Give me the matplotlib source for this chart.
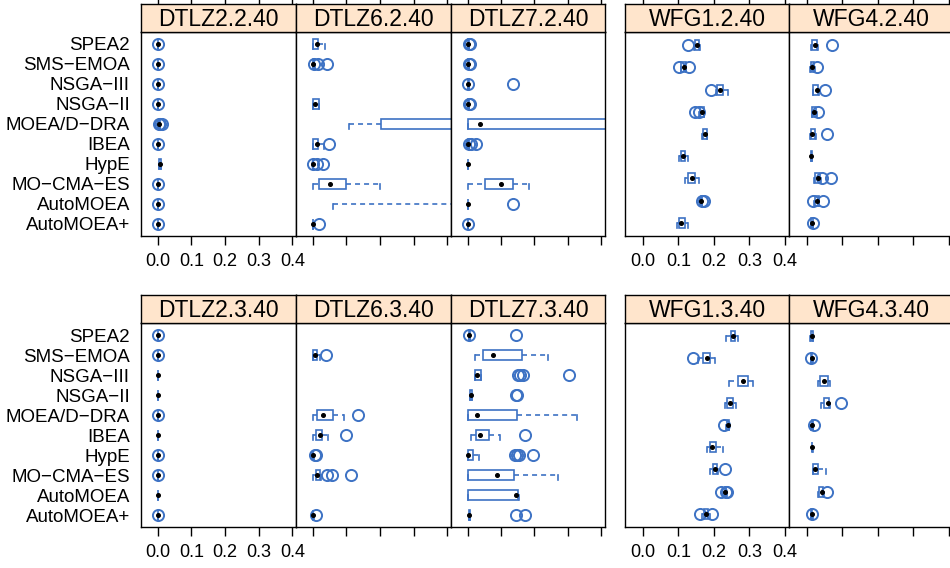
import numpy as np
import matplotlib
matplotlib.use('Agg')
import matplotlib.pyplot as plt
from matplotlib.patches import Rectangle

plt.rcParams['font.family'] = ['Liberation Sans', 'DejaVu Sans']
plt.rcParams['lines.scale_dashes'] = False

# algorithms (left group); right group has 9 unlabeled rows
algos = ['SPEA2', 'SMS\u2212EMOA', 'NSGA\u2212III', 'NSGA\u2212II', 'MOEA/D\u2212DRA',
         'IBEA', 'HypE', 'MO\u2212CMA\u2212ES', 'AutoMOEA', 'AutoMOEA+']
ticks = [0.0, 0.1, 0.2, 0.3, 0.4]
tick_labels = ['0.0', '0.1', '0.2', '0.3', '0.4']

# box stats: (whisker low, q1, median, q3, whisker high); None = nothing drawn
dtlz2_2_box = [(0.0, 0.0, 0.0, 0.001, 0.001)] * 4 + [(0.003, 0.004, 0.005, 0.006, 0.007),
               (0.0, 0.0, 0.0, 0.001, 0.001), (0.004, 0.005, 0.007, 0.010, 0.011),
               (0.0, 0.001, 0.001, 0.002, 0.002), (0.0, 0.001, 0.001, 0.002, 0.002),
               (0.0, 0.0, 0.0, 0.001, 0.001)]
dtlz2_2_out = [[0.0], [0.0], [0.0], [0.0], [0.004, 0.008, 0.012], [0.0], [], [0.001], [0.001], [0.0]]

dtlz6_2_box = [(0.0, 0.0, 0.012, 0.017, 0.037), (0.0, 0.0, 0.001, 0.004, 0.006), None,
               (0.0, 0.0, 0.006, 0.020, 0.020), (0.109, 0.203, 0.6, 0.9, 1.0),
               (0.0, 0.0, 0.014, 0.017, 0.035), (0.0, 0.0, 0.0, 0.002, 0.002),
               (0.0, 0.020, 0.052, 0.099, 0.200), (0.059, 0.5, 0.6, 0.7, 0.9),
               (0.0, 0.0, 0.0, 0.001, 0.001)]
dtlz6_2_out = [[], [0.005, 0.016, 0.044], [], [], [], [0.048], [0.0, 0.014, 0.03], [], [], [0.02]]

dtlz7_2_box = [(0.0, 0.001, 0.002, 0.003, 0.004), (0.0, 0.001, 0.002, 0.003, 0.004),
               (0.0, 0.001, 0.002, 0.003, 0.003), (0.0, 0.001, 0.002, 0.003, 0.003),
               (0.0, 0.0, 0.037, 0.6, 0.9), (0.0, 0.001, 0.002, 0.003, 0.003),
               (0.0, 0.0, 0.0, 0.001, 0.002), (0.0, 0.053, 0.100, 0.137, 0.185),
               (0.0, 0.0, 0.0, 0.001, 0.001), (0.0, 0.0, 0.001, 0.002, 0.002)]
dtlz7_2_out = [[0.004, 0.007], [0.003, 0.007], [0.002, 0.136], [0.003, 0.006], [],
               [0.004, 0.01, 0.024], [], [], [0.135], [0.001]]

wfg1_2_box = [(0.144, 0.147, 0.153, 0.159, 0.161), (0.107, 0.109, 0.115, 0.121, 0.123),
              (0.205, 0.209, 0.216, 0.225, 0.239), (0.159, 0.160, 0.167, 0.171, 0.173),
              (0.168, 0.170, 0.176, 0.180, 0.182), (0.101, 0.107, 0.113, 0.120, 0.126),
              (0.118, 0.127, 0.138, 0.146, 0.158), (0.162, 0.163, 0.165, 0.167, 0.168),
              (0.097, 0.101, 0.109, 0.118, 0.127)]
wfg1_2_out = [[0.127], [0.101, 0.130], [0.193], [0.147, 0.157], [], [], [], [0.166, 0.171], []]

wfg4_2_box = [(0.013, 0.015, 0.023, 0.029, 0.031), (0.010, 0.011, 0.015, 0.021, 0.023),
              (0.017, 0.019, 0.028, 0.033, 0.035), (0.014, 0.016, 0.021, 0.026, 0.028),
              (0.009, 0.011, 0.015, 0.023, 0.025), (0.011, 0.011, 0.012, 0.014, 0.014),
              (0.022, 0.024, 0.032, 0.038, 0.040), (0.021, 0.024, 0.029, 0.035, 0.036),
              (0.011, 0.012, 0.015, 0.018, 0.019)]
wfg4_2_out = [[0.072], [0.028], [0.052], [0.032], [0.058], [], [0.043, 0.067], [0.017, 0.045], [0.019]]

dtlz2_3_box = [(0.0, 0.0, 0.0, 0.001, 0.001)] * 6 + [(0.0, 0.0, 0.001, 0.002, 0.002)] * 2 + \
              [(0.0, 0.0, 0.0, 0.001, 0.001)] * 2
dtlz2_3_out = [[0.0], [0.0], [], [], [0.0], [], [0.001], [0.001], [], [0.0]]

dtlz6_3_box = [None, (0.0, 0.0, 0.008, 0.012, 0.022), None, None,
               (0.0, 0.014, 0.031, 0.059, 0.093), (0.0, 0.010, 0.021, 0.027, 0.045),
               (0.0, 0.0, 0.0, 0.002, 0.003), (0.0, 0.010, 0.012, 0.022, 0.024), None,
               (0.0, 0.0, 0.0, 0.002, 0.003)]
dtlz6_3_out = [[], [0.04], [], [], [0.136], [0.098], [0.008, 0.01], [0.044, 0.058, 0.114], [], [0.01]]

dtlz7_3_box = [(0.003, 0.004, 0.005, 0.006, 0.007), (0.022, 0.047, 0.076, 0.162, 0.242),
               (0.021, 0.022, 0.029, 0.040, 0.041), (0.006, 0.007, 0.009, 0.012, 0.013),
               (0.0, 0.002, 0.027, 0.148, 0.326), (0.009, 0.024, 0.037, 0.063, 0.098),
               (0.0, 0.002, 0.002, 0.017, 0.035), (0.0, 0.0, 0.088, 0.138, 0.271),
               (0.0, 0.002, 0.146, 0.150, 0.155), (0.004, 0.004, 0.005, 0.007, 0.008)]
dtlz7_3_out = [[0.005, 0.146], [], [0.152, 0.158, 0.167, 0.304], [0.146, 0.149], [], [0.173],
               [0.141, 0.149, 0.155, 0.195], [], [], [0.146, 0.173]]

wfg1_3_box = [(0.234, 0.247, 0.253, 0.258, 0.267), (0.155, 0.169, 0.180, 0.188, 0.202),
              (0.242, 0.269, 0.283, 0.295, 0.309), (0.230, 0.237, 0.244, 0.253, 0.262),
              (0.235, 0.237, 0.239, 0.242, 0.243), (0.181, 0.188, 0.195, 0.207, 0.227),
              (0.188, 0.197, 0.204, 0.209, 0.212), (0.228, 0.230, 0.232, 0.235, 0.237),
              (0.167, 0.171, 0.177, 0.183, 0.188)]
wfg1_3_out = [[], [0.141], [], [], [0.228], [], [0.23], [0.22, 0.233, 0.236], [0.16, 0.195]]

wfg4_3_box = [(0.010, 0.011, 0.014, 0.017, 0.018), (0.011, 0.012, 0.014, 0.016, 0.017),
              (0.033, 0.038, 0.049, 0.059, 0.066), (0.040, 0.049, 0.059, 0.063, 0.066),
              (0.013, 0.014, 0.015, 0.017, 0.018), (0.014, 0.014, 0.015, 0.016, 0.017),
              (0.017, 0.017, 0.023, 0.033, 0.054), (0.033, 0.035, 0.042, 0.047, 0.048),
              (0.012, 0.013, 0.014, 0.016, 0.017)]
wfg4_3_out = [[], [0.012], [], [0.096], [0.02], [], [], [0.056], [0.015]]

BLUE = '#3d72c4'
STRIP = '#ffe5cc'
W, H = 950, 568

fig = plt.figure(figsize=(W / 100, H / 100), dpi=100)


def px_axes(x0, x1, y0, y1):
    return fig.add_axes([x0 / W, 1 - y1 / H, (x1 - x0) / W, (y1 - y0) / H])


def panel(x0, x1, top, title, boxes, outs, labels_x, labels_y, top_ticks):
    strip_bot = top + 28
    bot = strip_bot + 204
    n = len(boxes)
    ax = px_axes(x0, x1, strip_bot, bot)
    ax.set_xlim(-0.0496, 0.411)
    ax.set_ylim(n + 0.6, 0.4)
    unit = 204.0 / (n + 0.2)
    h = 10.0 / unit
    for i, (st, out) in enumerate(zip(boxes, outs)):
        y = i + 1
        if st is not None:
            wlo, q1, med, q3, whi = st
            ax.add_patch(Rectangle((q1, y - h / 2), q3 - q1, h, fill=False, ec=BLUE, lw=1.2))
            ax.plot([wlo, q1], [y, y], color=BLUE, lw=1.2, ls=(0, (3.6, 2.9)))
            ax.plot([q3, whi], [y, y], color=BLUE, lw=1.2, ls=(0, (3.6, 2.9)))
            ax.plot([wlo, wlo], [y, y + h / 2], color=BLUE, lw=1.2)
            ax.plot([whi, whi], [y, y + h / 2], color=BLUE, lw=1.2)
            ax.plot([med], [y], 'o', color='k', ms=2.6, zorder=5)
        if out:
            ax.plot(out, [y] * len(out), 'o', mfc='none', mec=BLUE, ms=8, mew=1.4)
    ax.set_xticks(ticks)
    ax.set_xticklabels(tick_labels if labels_x else [])
    ax.tick_params(axis='x', direction='out', length=6.5, width=1.0, pad=6, labelsize=13)
    ax.set_yticks(range(1, n + 1))
    ax.set_yticklabels(algos if labels_y else [])
    ax.tick_params(axis='y', length=0, pad=8, labelsize=13.5)
    for s in ax.spines.values():
        s.set_linewidth(1.0)

    sx = px_axes(x0, x1, top, strip_bot)
    sx.set_facecolor(STRIP)
    sx.set_xlim(-0.0496, 0.411)
    sx.set_ylim(0, 1)
    sx.set_yticks([])
    sx.set_xticks(ticks if top_ticks else [])
    sx.tick_params(axis='x', bottom=False, top=top_ticks, labelbottom=False,
                   direction='out', length=6.5, width=1.0)
    for s in sx.spines.values():
        s.set_linewidth(1.0)
    sx.text(0.5, 0.45, title, transform=sx.transAxes, ha='center', va='center', fontsize=16.5)


left_cols = [(141, 296), (296, 451), (451, 605)]
right_cols = [(625, 789), (789, 953)]

panel(*left_cols[0], 4, 'DTLZ2.2.40', dtlz2_2_box, dtlz2_2_out, True, True, True)
panel(*left_cols[1], 4, 'DTLZ6.2.40', dtlz6_2_box, dtlz6_2_out, False, False, True)
panel(*left_cols[2], 4, 'DTLZ7.2.40', dtlz7_2_box, dtlz7_2_out, False, False, True)
panel(*right_cols[0], 4, 'WFG1.2.40', wfg1_2_box, wfg1_2_out, True, False, True)
panel(*right_cols[1], 4, 'WFG4.2.40', wfg4_2_box, wfg4_2_out, False, False, True)

panel(*left_cols[0], 295, 'DTLZ2.3.40', dtlz2_3_box, dtlz2_3_out, True, True, False)
panel(*left_cols[1], 295, 'DTLZ6.3.40', dtlz6_3_box, dtlz6_3_out, False, False, False)
panel(*left_cols[2], 295, 'DTLZ7.3.40', dtlz7_3_box, dtlz7_3_out, False, False, False)
panel(*right_cols[0], 295, 'WFG1.3.40', wfg1_3_box, wfg1_3_out, True, False, False)
panel(*right_cols[1], 295, 'WFG4.3.40', wfg4_3_box, wfg4_3_out, False, False, False)

fig.savefig('out.png', dpi=100)
